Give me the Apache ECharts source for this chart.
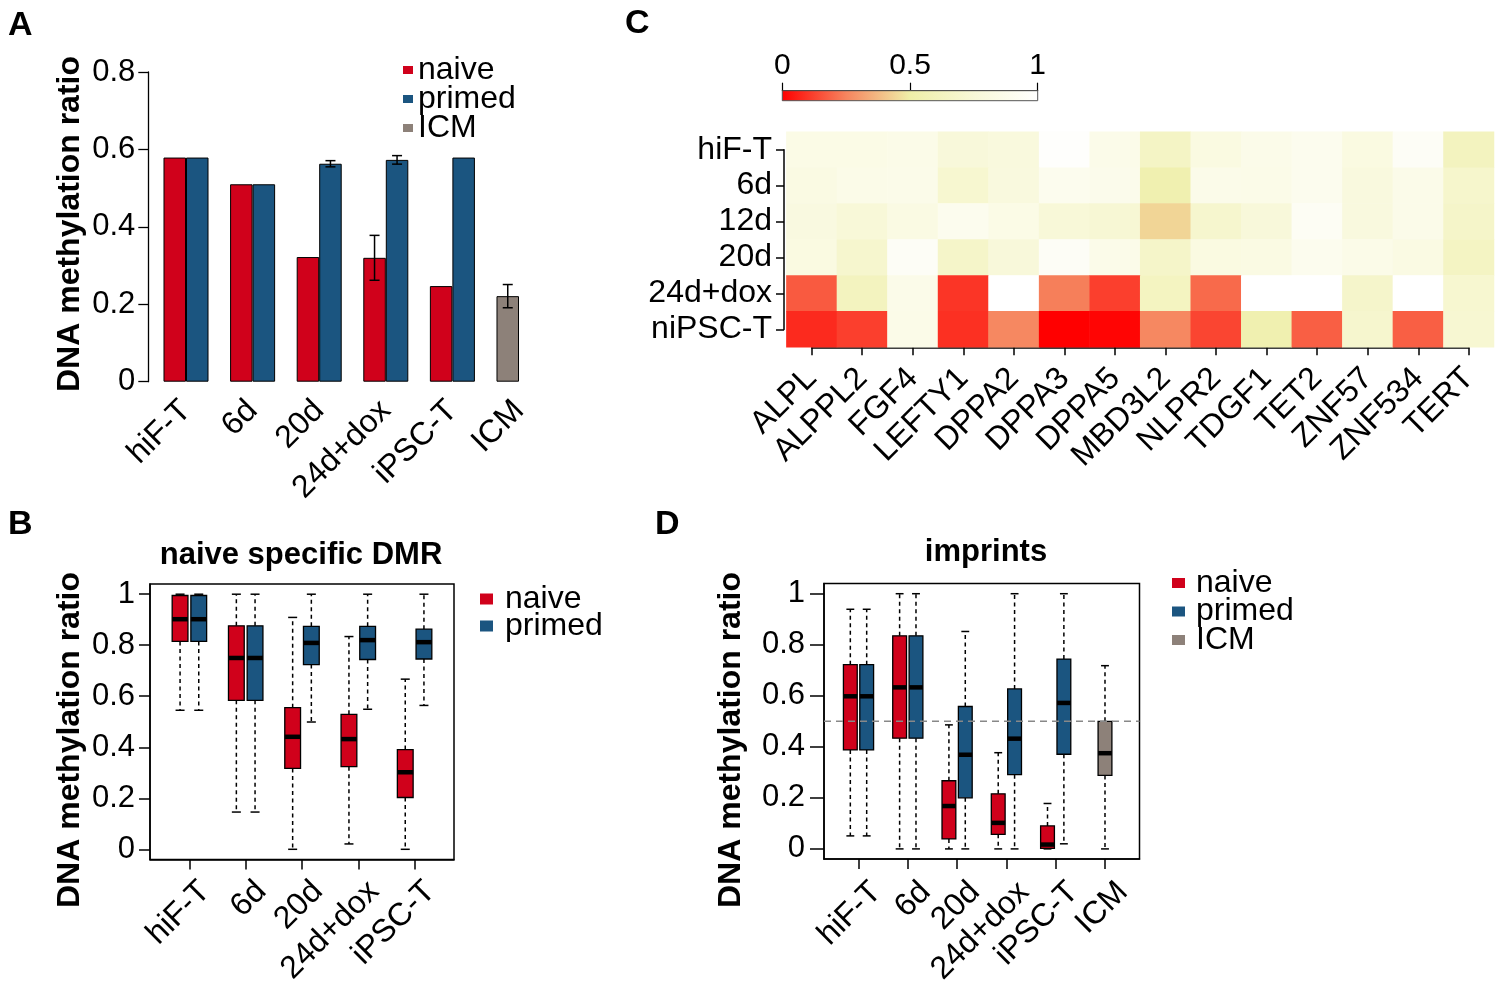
<!DOCTYPE html>
<html><head><meta charset="utf-8">
<script src="https://cdn.jsdelivr.net/npm/echarts@6/dist/echarts.min.js"></script>
<style>html,body{margin:0;padding:0;background:#fff}#c{width:1500px;height:988px}</style>
</head><body><div id="c"></div>
<script>
const FONT = '"Liberation Sans", Arial, Helvetica, sans-serif';
const RED = '#D0011B', BLUE = '#1B5580', GRAY = '#8D8179';

// ---------- Panel A ----------
const catsA = ['hiF-T', '6d', '20d', '24d+dox', 'iPSC-T', 'ICM'];
const aNaive = [0.579, 0.51, 0.322, 0.32, 0.247, null];
const aPrimed = [0.579, 0.51, 0.563, 0.573, 0.579, null];
const aICM = [null, null, null, null, null, 0.221];
const aNaiveErr = [null, null, null, 0.058, null, null];
const aPrimedErr = [null, null, 0.008, 0.011, null, null];
const aICMErr = [null, null, null, null, null, 0.03];

// ---------- Panel C ----------
const genes = ['ALPL', 'ALPPL2', 'FGF4', 'LEFTY1', 'DPPA2', 'DPPA3', 'DPPA5', 'MBD3L2', 'NLPR2', 'TDGF1', 'TET2', 'ZNF57', 'ZNF534', 'TERT'];
const rowsC = ['hiF-T', '6d', '12d', '20d', '24d+dox', 'niPSC-T'];
const cHiFT  = [0.84, 0.84, 0.85, 0.76, 0.78, 0.98, 0.86, 0.65, 0.81, 0.86, 0.89, 0.81, 0.94, 0.62];
const c6d    = [0.82, 0.85, 0.86, 0.71, 0.79, 0.89, 0.87, 0.54, 0.86, 0.85, 0.89, 0.79, 0.86, 0.69];
const c12d   = [0.80, 0.75, 0.82, 0.89, 0.84, 0.75, 0.73, 0.44, 0.70, 0.76, 0.93, 0.79, 0.86, 0.67];
const c20d   = [0.81, 0.70, 0.94, 0.67, 0.76, 0.94, 0.86, 0.67, 0.81, 0.82, 0.89, 0.85, 0.82, 0.64];
const c24d   = [0.17, 0.62, 0.86, 0.10, 1.00, 0.24, 0.12, 0.63, 0.20, 1.00, 1.00, 0.68, 1.00, 0.71];
const cNiPSC = [0.08, 0.12, 0.85, 0.09, 0.26, 0.00, 0.01, 0.26, 0.13, 0.54, 0.18, 0.70, 0.18, 0.72];
const colorStops = ['#FF0000', '#F6845E', '#EFEFA8', '#F8F8D8', '#FFFFFF'];

// ---------- Panel B ---------- [low, q1, median, q3, high]
const catsB = ['hiF-T', '6d', '20d', '24d+dox', 'iPSC-T'];
const bNaive = [
  [0.545, 0.815, 0.902, 0.995, 1.0],
  [0.146, 0.584, 0.75, 0.876, 1.0],
  [0.0, 0.317, 0.441, 0.555, 0.909],
  [0.021, 0.324, 0.432, 0.529, 0.834],
  [0.0, 0.203, 0.302, 0.391, 0.667]
];
const bPrimed = [
  [0.545, 0.815, 0.902, 0.995, 1.0],
  [0.146, 0.584, 0.75, 0.876, 1.0],
  [0.499, 0.724, 0.809, 0.874, 1.0],
  [0.549, 0.744, 0.82, 0.874, 1.0],
  [0.564, 0.746, 0.812, 0.863, 1.0]
];

// ---------- Panel D ----------
const catsD = ['hiF-T', '6d', '20d', '24d+dox', 'iPSC-T', 'ICM'];
const dNaive = [
  [0.051, 0.388, 0.598, 0.722, 0.939],
  [0.0, 0.434, 0.633, 0.835, 1.0],
  [0.0, 0.039, 0.168, 0.267, 0.486],
  [0.0, 0.057, 0.102, 0.216, 0.377],
  [0.0, 0.002, 0.017, 0.09, 0.178],
  null
];
const dPrimed = [
  [0.051, 0.388, 0.598, 0.722, 0.939],
  [0.0, 0.434, 0.633, 0.835, 1.0],
  [0.0, 0.2, 0.369, 0.558, 0.852],
  [0.0, 0.291, 0.432, 0.627, 1.0],
  [0.02, 0.371, 0.572, 0.744, 1.0],
  null
];
const dICM = [null, null, null, null, null, [0.0, 0.288, 0.375, 0.5, 0.718]];
const dRefLine = 0.5;
const ticksBD = [0, 0.2, 0.4, 0.6, 0.8, 1];

// ---------- helpers ----------
const txt = { color: '#000', fontFamily: FONT };
function errSeries(vals, errs, off, xi, yi) {
  const data = [];
  vals.forEach((v, i) => { if (errs[i] != null && v != null) data.push([i, v, errs[i]]); });
  return {
    type: 'custom', xAxisIndex: xi, yAxisIndex: yi, z: 5, silent: true,
    data: data,
    encode: { x: 0, y: 1 },
    renderItem: function (params, api) {
      const i = api.value(0), v = api.value(1), e = api.value(2);
      const band = api.size([1, 0])[0];
      const x = api.coord([i, v])[0] + off * band;
      const yt = api.coord([i, v + e])[1], yb = api.coord([i, v - e])[1];
      const st = { stroke: '#000', lineWidth: 1.5 };
      return { type: 'group', children: [
        { type: 'line', shape: { x1: x, y1: yt, x2: x, y2: yb }, style: st },
        { type: 'line', shape: { x1: x - 5, y1: yt, x2: x + 5, y2: yt }, style: st },
        { type: 'line', shape: { x1: x - 5, y1: yb, x2: x + 5, y2: yb }, style: st }
      ] };
    }
  };
}
function boxSeries(name, rows, off, color, xi, yi) {
  const data = [];
  rows.forEach((r, i) => { if (r) data.push([i + 1].concat(r)); });
  return {
    type: 'custom', name: name, xAxisIndex: xi, yAxisIndex: yi, z: 3, silent: true,
    itemStyle: { color: color },
    data: data,
    encode: { x: 0, y: [1, 2, 3, 4, 5] },
    renderItem: function (params, api) {
      const x = api.value(0) + off;
      const lo = api.value(1), q1 = api.value(2), md = api.value(3), q3 = api.value(4), hi = api.value(5);
      const cx = api.coord([x, md])[0];
      const Y = v => api.coord([x, v])[1];
      const hw = api.size([0.14, 0])[0];
      const cw = api.size([0.08, 0])[0];
      const dash = { stroke: '#000', lineWidth: 1.5, lineDash: [4, 3.5] };
      const solid = { stroke: '#000', lineWidth: 1.5 };
      return { type: 'group', children: [
        { type: 'line', shape: { x1: cx, y1: Y(q3), x2: cx, y2: Y(hi) }, style: dash },
        { type: 'line', shape: { x1: cx, y1: Y(q1), x2: cx, y2: Y(lo) }, style: dash },
        { type: 'line', shape: { x1: cx - cw, y1: Y(hi), x2: cx + cw, y2: Y(hi) }, style: solid },
        { type: 'line', shape: { x1: cx - cw, y1: Y(lo), x2: cx + cw, y2: Y(lo) }, style: solid },
        { type: 'rect', shape: { x: cx - hw, y: Y(q3), width: 2 * hw, height: Y(q1) - Y(q3) },
          style: { fill: color, stroke: '#000', lineWidth: 1.3 } },
        { type: 'line', shape: { x1: cx - hw, y1: Y(md), x2: cx + hw, y2: Y(md) }, style: { stroke: '#000', lineWidth: 4.5 } }
      ] };
    }
  };
}
// main x axis of a box panel: ticks only
function boxXAxis(gi, cats) {
  const pos = cats.map((c, i) => i + 1);
  return {
    type: 'value', gridIndex: gi, position: 'bottom', min: 0.3, max: cats.length + 0.7,
    axisLine: { show: true, onZero: false, lineStyle: { color: '#000', width: 1.5 } },
    axisTick: { show: true, customValues: pos, length: 10, lineStyle: { color: '#000', width: 1.5 } },
    axisLabel: { show: false },
    splitLine: { show: false }
  };
}
// label-only axis (shifted so rotated label ends sit like the R labels)
function boxLabelAxis(gi, cats, shift, margin) {
  const pos = cats.map((c, i) => i + 1);
  return {
    type: 'value', gridIndex: gi, position: 'bottom', offset: 0, min: 0.3 - shift, max: cats.length + 0.7 - shift,
    axisLine: { show: false, onZero: false }, axisTick: { show: false },
    axisLabel: { customValues: pos, rotate: 45, margin: margin, fontSize: 32, ...txt,
      formatter: v => cats[Math.round(v) - 1] },
    splitLine: { show: false }
  };
}
function boxYAxis(gi, tickLen, margin) {
  return {
    type: 'value', gridIndex: gi, position: 'left', min: -0.04, max: 1.04,
    axisLine: { show: true, onZero: false, lineStyle: { color: '#000', width: 1.5 } },
    axisTick: { show: true, customValues: ticksBD, length: tickLen, lineStyle: { color: '#000', width: 1.5 } },
    axisLabel: { customValues: ticksBD, margin: margin, fontSize: 31, ...txt, formatter: v => String(v) },
    splitLine: { show: false }
  };
}

const heatData = [];
[cHiFT, c6d, c12d, c20d, c24d, cNiPSC].forEach((row, r) => row.forEach((v, c) => heatData.push([c, r, v])));

const series = [
  { type: 'bar', name: 'naive', xAxisIndex: 0, yAxisIndex: 0, stack: 'n', data: aNaive, barWidth: '33.8%', barGap: '0%',
    itemStyle: { color: RED, borderColor: '#000', borderWidth: 1 } },
  { type: 'bar', name: 'ICM', xAxisIndex: 0, yAxisIndex: 0, stack: 'n', data: aICM, barWidth: '33.8%', barGap: '0%',
    itemStyle: { color: GRAY, borderColor: '#000', borderWidth: 1 } },
  { type: 'bar', name: 'primed', xAxisIndex: 0, yAxisIndex: 0, data: aPrimed, barWidth: '33.8%', barGap: '0%',
    itemStyle: { color: BLUE, borderColor: '#000', borderWidth: 1 } },
  errSeries(aNaive, aNaiveErr, -0.169, 0, 0),
  errSeries(aPrimed, aPrimedErr, 0.169, 0, 0),
  errSeries(aICM, aICMErr, -0.169, 0, 0),
  { type: 'heatmap', xAxisIndex: 1, yAxisIndex: 1, data: heatData, itemStyle: { borderWidth: 0 },
    emphasis: { disabled: true }, progressive: 0 },
  { type: 'custom', xAxisIndex: 3, yAxisIndex: 3, silent: true, data: [[0, 0]],
    renderItem: function (params, api) {
      const p0 = api.coord([0, 0]), p1 = api.coord([1, 1]);
      const stops = colorStops.map((c, i) => ({ offset: i / (colorStops.length - 1), color: c }));
      return { type: 'rect', shape: { x: p0[0], y: p1[1], width: p1[0] - p0[0], height: p0[1] - p1[1] },
        style: { fill: new echarts.graphic.LinearGradient(0, 0, 1, 0, stops), stroke: '#555', lineWidth: 1 } };
    } },
  boxSeries('naive', bNaive, -0.166, RED, 4, 4),
  boxSeries('primed', bPrimed, 0.166, BLUE, 4, 4),
  boxSeries('naive', dNaive, -0.166, RED, 5, 5),
  boxSeries('primed', dPrimed, 0.166, BLUE, 5, 5),
  boxSeries('ICM', dICM, 0, GRAY, 5, 5),
  { type: 'line', xAxisIndex: 5, yAxisIndex: 5, data: [[0.3, dRefLine], [6.7, dRefLine]], symbol: 'none', z: 10, silent: true,
    lineStyle: { color: '#888', width: 1.5, type: [7, 5] } }
];

const legendBase = {
  orient: 'vertical', icon: 'rect', selectedMode: false, padding: 0,
  itemStyle: { borderWidth: 0 }
};

const option = {
  animation: false,
  backgroundColor: '#fff',
  textStyle: { fontFamily: FONT },
  grid: [
    { left: 152.7, top: 72, width: 399.6, height: 309.7 },
    { left: 786.4, top: 131.7, width: 707.6, height: 215.6 },
    { left: 811.7, top: 149.7, width: 657.1, height: 179.7 },
    { left: 782.3, top: 90.7, width: 255.4, height: 10 },
    { left: 150, top: 584, width: 304, height: 275.5, show: true, borderColor: '#000', borderWidth: 1.5 },
    { left: 824, top: 583.5, width: 315.5, height: 277.1, show: true, borderColor: '#000', borderWidth: 1.5 }
  ],
  xAxis: [
    { type: 'category', gridIndex: 0, data: catsA, axisLine: { show: false }, axisTick: { show: false },
      axisLabel: { interval: 0, rotate: 45, margin: 24, fontSize: 32, ...txt } },
    { type: 'category', gridIndex: 1, data: genes, show: false },
    { type: 'category', gridIndex: 2, data: genes, boundaryGap: false, position: 'bottom', offset: 17.9,
      axisLine: { show: true, lineStyle: { color: '#000', width: 1.5 } },
      axisTick: { show: true, length: 8, lineStyle: { color: '#000', width: 1.5 } },
      axisLabel: { interval: 0, rotate: 45, margin: 26, fontSize: 32, ...txt },
      splitLine: { show: false } },
    { type: 'value', gridIndex: 3, position: 'top', min: 0, max: 1, interval: 0.5,
      axisLine: { show: true, onZero: false, lineStyle: { color: '#000', width: 1.2 } },
      axisTick: { show: true, length: 8, lineStyle: { color: '#000', width: 1.2 } },
      axisLabel: { margin: 10, fontSize: 30, ...txt }, splitLine: { show: false } },
    boxXAxis(4, catsB),
    boxXAxis(5, catsD),
    boxLabelAxis(4, catsB, 0.28, 27),
    boxLabelAxis(5, catsD, 0.36, 28)
  ],
  yAxis: [
    { type: 'value', gridIndex: 0, min: 0, max: 0.8, interval: 0.2, offset: 4.4,
      axisLine: { show: true, lineStyle: { color: '#000', width: 1.3 } },
      axisTick: { show: true, length: 10, lineStyle: { color: '#000', width: 1.3 } },
      axisLabel: { margin: 13, fontSize: 31, ...txt }, splitLine: { show: false } },
    { type: 'category', gridIndex: 1, data: rowsC, inverse: true, show: false },
    { type: 'category', gridIndex: 2, data: rowsC, inverse: true, boundaryGap: false, position: 'left', offset: 27.7,
      axisLine: { show: true, lineStyle: { color: '#000', width: 1.5 } },
      axisTick: { show: true, length: 8, lineStyle: { color: '#000', width: 1.5 } },
      axisLabel: { interval: 0, margin: 12, fontSize: 32, ...txt }, splitLine: { show: false } },
    { type: 'value', gridIndex: 3, min: 0, max: 1, show: false },
    boxYAxis(4, 11, 15),
    boxYAxis(5, 14, 19)
  ],
  visualMap: {
    type: 'continuous', min: 0, max: 1, show: false, seriesIndex: 6,
    inRange: { color: colorStops }
  },
  legend: [
    Object.assign({}, legendBase, { data: ['naive', 'primed', 'ICM'], left: 403, top: 54, itemWidth: 10, itemHeight: 8, itemGap: -3,
      textStyle: { fontSize: 32, lineHeight: 27, color: '#000', fontFamily: FONT } }),
    Object.assign({}, legendBase, { data: ['naive', 'primed'], left: 480, top: 583, itemWidth: 13, itemHeight: 11, itemGap: -5,
      textStyle: { fontSize: 32, lineHeight: 26, color: '#000', fontFamily: FONT, padding: [0, 0, 0, 7] } }),
    Object.assign({}, legendBase, { data: ['naive', 'primed', 'ICM'], left: 1172, top: 567, itemWidth: 13, itemHeight: 10, itemGap: -3.5,
      textStyle: { fontSize: 32, lineHeight: 27, color: '#000', fontFamily: FONT, padding: [0, 0, 0, 6] } })
  ],
  graphic: [
    { type: 'text', x: 8, y: 26, style: { text: 'A', font: 'bold 34px ' + FONT, fill: '#000', textVerticalAlign: 'middle' } },
    { type: 'text', x: 8, y: 525, style: { text: 'B', font: 'bold 34px ' + FONT, fill: '#000', textVerticalAlign: 'middle' } },
    { type: 'text', x: 625, y: 24, style: { text: 'C', font: 'bold 34px ' + FONT, fill: '#000', textVerticalAlign: 'middle' } },
    { type: 'text', x: 655, y: 525, style: { text: 'D', font: 'bold 34px ' + FONT, fill: '#000', textVerticalAlign: 'middle' } },
    { type: 'text', x: 301, y: 555, style: { text: 'naive specific DMR', font: 'bold 31px ' + FONT, fill: '#000', textAlign: 'center', textVerticalAlign: 'middle' } },
    { type: 'text', x: 986, y: 552, style: { text: 'imprints', font: 'bold 31px ' + FONT, fill: '#000', textAlign: 'center', textVerticalAlign: 'middle' } },
    { type: 'text', x: 70, y: 224, rotation: Math.PI / 2, style: { text: 'DNA methylation ratio', font: 'bold 32px ' + FONT, fill: '#000', textAlign: 'center', textVerticalAlign: 'middle' } },
    { type: 'text', x: 70, y: 740, rotation: Math.PI / 2, style: { text: 'DNA methylation ratio', font: 'bold 32px ' + FONT, fill: '#000', textAlign: 'center', textVerticalAlign: 'middle' } },
    { type: 'text', x: 731, y: 740, rotation: Math.PI / 2, style: { text: 'DNA methylation ratio', font: 'bold 32px ' + FONT, fill: '#000', textAlign: 'center', textVerticalAlign: 'middle' } }
  ],
  series: series
};

const chart = echarts.init(document.getElementById('c'), null, { renderer: 'canvas' });
chart.setOption(option);
</script>
</body></html>
